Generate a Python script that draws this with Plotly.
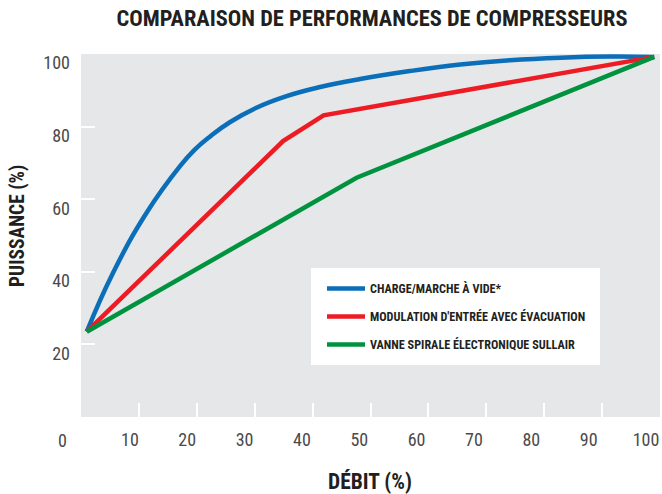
import plotly.graph_objects as go

# ---- data ----
blue_name = "CHARGE/MARCHE À VIDE*"
blue_x = [1, 5.5, 11.3, 17.1, 19.6, 22.3, 25.7, 30.3, 35.5, 41.3, 48.2, 56.8, 65.5, 74.1, 82.8, 91.4, 99]
blue_y = [23.5, 39.6, 56.2, 69.1, 73.6, 77.3, 81.2, 85.2, 88.4, 90.9, 93.1, 95.3, 97.1, 98.3, 99.0, 99.3, 99.2]

red_name = "MODULATION D'ENTRÉE AVEC ÉVACUATION"
red_x = [1, 34.9, 41.9, 99]
red_y = [23.5, 76.0, 83.1, 99.2]

green_name = "VANNE SPIRALE ÉLECTRONIQUE SULLAIR"
green_x = [1, 47.6, 99]
green_y = [23.5, 65.9, 99.2]

x_ticks = [10, 20, 30, 40, 50, 60, 70, 80, 90, 100]
y_ticks = [20, 40, 60, 80, 100]

title_text = "COMPARAISON DE PERFORMANCES DE COMPRESSEURS"
x_title = "DÉBIT (%)"
y_title = "PUISSANCE (%)"

# ---- styles ----
FONT = "Roboto Condensed"
TXT = "#231f20"
TICK = "#4a4a4a"
BG = "#e6e7e8"
W = 4.5

L, R, T, B = 81, 2, 54, 77
PW, PH = 662 - L - R, 494 - T - B


def px(xp):
    return (xp - L) / PW


def py(yp):
    return (494 - B - yp) / PH


# reference draws its tick labels slightly offset from their tick marks (pixels)
def x_label_pos(v):
    shift_px = 9 + (v - 10) / 90 * 5
    return v - shift_px * 100 / PW


def y_label_pos(v):
    return v - 9 * 100 / PH


fig = go.Figure()
fig.add_trace(go.Scatter(x=blue_x, y=blue_y, mode="lines", name=blue_name, legendgroup="a",
                         line=dict(color="#0a6eb9", width=W, shape="spline", smoothing=1.3), hoverinfo="skip"))
fig.add_trace(go.Scatter(x=red_x, y=red_y, mode="lines", name=red_name, legendgroup="b",
                         line=dict(color="#ed1c24", width=W), hoverinfo="skip"))
fig.add_trace(go.Scatter(x=green_x, y=green_y, mode="lines", name=green_name, legendgroup="c",
                         line=dict(color="#00933f", width=W), hoverinfo="skip"))
# empty trace so that the label-only overlay axes are drawn
fig.add_trace(go.Scatter(x=[None], y=[None], xaxis="x2", yaxis="y2", showlegend=False, hoverinfo="skip"))

fig.update_layout(
    width=662, height=494,
    margin=dict(l=L, r=R, t=T, b=B, autoexpand=False),
    paper_bgcolor="white", plot_bgcolor=BG,
    title=dict(text=f"<b>{title_text}</b>", x=372 / 662, xanchor="center", xref="container",
               y=1 - 18 / 494, yanchor="middle", yref="container",
               font=dict(family=FONT, size=22.4, color=TXT)),
    showlegend=True,
    legend=dict(x=px(322), y=py(274), xanchor="left", yanchor="top", bgcolor="rgba(0,0,0,0)",
                traceorder="grouped", tracegroupgap=9, itemwidth=38,
                font=dict(family=FONT, size=12.2, color=TXT, weight="bold")),
    shapes=[dict(type="rect", xref="paper", yref="paper", x0=px(311), x1=px(600), y0=py(365), y1=py(268),
                 fillcolor="white", line=dict(width=0), layer="below")],
    annotations=[
        dict(text="0", x=px(62), y=py(440), xref="paper", yref="paper", showarrow=False,
             xanchor="center", yanchor="middle", font=dict(family=FONT, size=18, color=TICK)),
        dict(text=f"<b>{x_title}</b>", x=px(370), y=py(481), xref="paper", yref="paper", showarrow=False,
             xanchor="center", yanchor="middle", font=dict(family=FONT, size=21.5, color=TXT)),
        dict(text=f"<b>{y_title}</b>", x=px(17), y=py(226), xref="paper", yref="paper", showarrow=False,
             textangle=-90, xanchor="center", yanchor="middle", font=dict(family=FONT, size=19.5, color=TXT)),
    ],
    # main axes: white inside tick marks only
    xaxis=dict(range=[0, 100], tickvals=x_ticks, ticks="inside", ticklen=14, tickwidth=1.5, tickcolor="white",
               showticklabels=False, showgrid=False, zeroline=False, showline=False, fixedrange=True,
               automargin=False),
    yaxis=dict(range=[0, 100], tickvals=y_ticks, ticks="inside", ticklen=14, tickwidth=1.5, tickcolor="white",
               showticklabels=False, showgrid=False, zeroline=False, showline=False, fixedrange=True,
               automargin=False),
    # overlay axes: tick labels only
    xaxis2=dict(overlaying="x", anchor="y2", side="bottom", range=[0, 100],
                tickvals=[x_label_pos(v) for v in x_ticks], ticktext=[str(v) for v in x_ticks],
                ticks="", showgrid=False, zeroline=False, showline=False, fixedrange=True,
                ticklabelstandoff=10, automargin=False, ticklabeloverflow="allow",
                tickfont=dict(family=FONT, size=18, color=TICK)),
    yaxis2=dict(overlaying="y", anchor="x2", side="left", range=[0, 100],
                tickvals=[y_label_pos(v) for v in y_ticks], ticktext=[str(v) for v in y_ticks],
                ticks="", showgrid=False, zeroline=False, showline=False, fixedrange=True,
                ticklabelstandoff=10, automargin=False, ticklabeloverflow="allow",
                tickfont=dict(family=FONT, size=18, color=TICK)),
)

fig.write_html("out.html", config={"displayModeBar": False},
               post_script="document.body.style.margin='0';")
